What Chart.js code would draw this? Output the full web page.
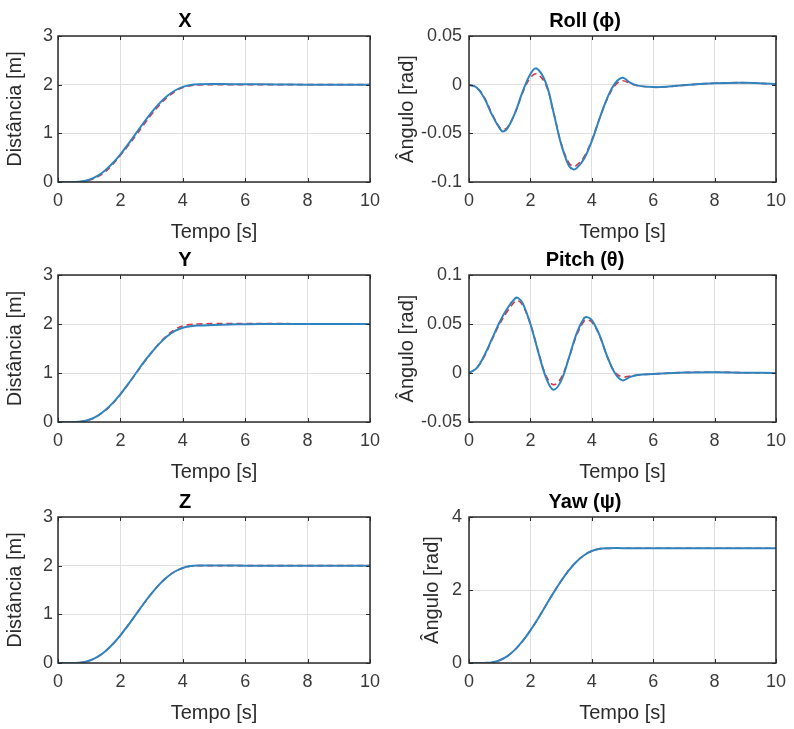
<!DOCTYPE html>
<html>
<head>
<meta charset="utf-8">
<title>Posição e atitude</title>
<script src="https://cdn.jsdelivr.net/npm/chart.js@4.4.0/dist/chart.umd.min.js"></script>
<style>
  body { margin: 0; background: #fff; }
  #wrap { position: relative; width: 794px; height: 729px; overflow: hidden; background: #fff; }
  #wrap canvas { position: absolute; }
</style>
</head>
<body>
<div id="wrap">
  <canvas id="cX"></canvas>
  <canvas id="cRoll"></canvas>
  <canvas id="cY"></canvas>
  <canvas id="cPitch"></canvas>
  <canvas id="cZ"></canvas>
  <canvas id="cYaw"></canvas>
</div>
<script>
// time bases (s)
var tPos = [0, 0.5, 0.75, 1, 1.25, 1.5, 1.75, 2, 2.25, 2.5, 2.75, 3, 3.25, 3.5, 3.75, 4, 4.25, 4.5, 5, 5.5, 6, 7, 8, 9, 10];
var tRoll = [0, 0.25, 0.5, 0.75, 1.0, 1.1, 1.25, 1.5, 1.75, 2.0, 2.2, 2.5, 2.75, 3.0, 3.25, 3.4, 3.5, 3.75, 4.0, 4.25, 4.5, 4.75, 5.0, 5.25, 5.5, 6, 6.5, 7, 8, 9, 10];
var tPitch = [0, 0.25, 0.5, 0.75, 1.0, 1.25, 1.5, 1.6, 1.75, 2.0, 2.25, 2.5, 2.75, 3.0, 3.25, 3.5, 3.75, 3.85, 4.0, 4.25, 4.5, 4.75, 5.0, 5.25, 5.5, 6, 7, 8, 9, 10];

// position X [m]: reference (red dashed) and response (blue)
var xRef = [0, 0.002, 0.008, 0.04, 0.1, 0.2, 0.36, 0.55, 0.75, 0.96, 1.18, 1.39, 1.58, 1.74, 1.86, 1.94, 1.98, 1.995, 2.0, 2.0, 2.0, 2.0, 2.0, 2.0, 2.0];
var xOut = [0, 0.002, 0.01, 0.047, 0.12, 0.233, 0.384, 0.57, 0.777, 1.0, 1.223, 1.43, 1.616, 1.767, 1.88, 1.955, 1.995, 2.01, 2.015, 2.01, 2.01, 2.005, 2.0, 2.0, 2.0];
// position Y [m]
var yRef = [0, 0.002, 0.009, 0.045, 0.115, 0.225, 0.375, 0.56, 0.77, 0.99, 1.21, 1.42, 1.61, 1.77, 1.89, 1.96, 1.99, 2.0, 2.01, 2.01, 2.01, 2.01, 2.0, 2.0, 2.0];
var yOut = [0, 0.002, 0.01, 0.047, 0.12, 0.233, 0.384, 0.57, 0.777, 1.0, 1.22, 1.42, 1.6, 1.75, 1.86, 1.925, 1.955, 1.97, 1.98, 1.99, 1.995, 2.0, 2.0, 2.0, 2.0];
// position Z [m]
var zRef = [0, 0.002, 0.01, 0.047, 0.12, 0.233, 0.384, 0.57, 0.777, 1.0, 1.223, 1.43, 1.616, 1.767, 1.88, 1.953, 1.99, 2.0, 2.0, 2.0, 2.0, 2.0, 2.0, 2.0, 2.0];
var zOut = [0, 0.002, 0.01, 0.047, 0.12, 0.233, 0.384, 0.57, 0.777, 1.0, 1.223, 1.43, 1.616, 1.767, 1.88, 1.953, 1.992, 2.003, 2.005, 2.003, 2.0, 2.0, 2.0, 2.0, 2.0];

// roll [rad]
var rollRef = [0, -0.003, -0.013, -0.03, -0.044, -0.046, -0.044, -0.029, -0.008, 0.007, 0.011, 0.0, -0.028, -0.06, -0.08, -0.084, -0.083, -0.074, -0.057, -0.035, -0.015, -0.001, 0.004, 0.001, -0.001, -0.0025, -0.002, -0.0005, 0.0015, 0.002, 0.0005];
var rollOut = [0, -0.003, -0.014, -0.031, -0.045, -0.048, -0.045, -0.029, -0.007, 0.011, 0.0167, 0.002, -0.028, -0.061, -0.083, -0.087, -0.086, -0.076, -0.058, -0.035, -0.014, 0.001, 0.007, 0.002, -0.001, -0.0025, -0.002, -0.0005, 0.0015, 0.002, 0.0005];
// pitch [rad]
var pitchRef = [0, 0.005, 0.017, 0.034, 0.05, 0.063, 0.073, 0.074, 0.069, 0.05, 0.023, -0.002, -0.012, -0.005, 0.015, 0.038, 0.053, 0.054, 0.052, 0.038, 0.017, 0.001, -0.004, -0.003, -0.002, -0.001, 0.0005, 0.0008, 0.0003, 0];
var pitchOut = [0, 0.005, 0.018, 0.035, 0.052, 0.066, 0.076, 0.0765, 0.071, 0.05, 0.022, -0.004, -0.017, -0.008, 0.015, 0.04, 0.056, 0.057, 0.054, 0.039, 0.017, 0.0, -0.0075, -0.004, -0.002, -0.001, 0.0005, 0.0008, 0.0003, 0];
// yaw [rad]
var yawRef = [0, 0.003, 0.016, 0.074, 0.188, 0.366, 0.603, 0.895, 1.22, 1.571, 1.921, 2.246, 2.538, 2.776, 2.953, 3.068, 3.126, 3.139, 3.142, 3.142, 3.142, 3.142, 3.142, 3.142, 3.142];
var yawOut = [0, 0.003, 0.016, 0.074, 0.188, 0.366, 0.603, 0.895, 1.22, 1.571, 1.921, 2.246, 2.538, 2.776, 2.953, 3.068, 3.13, 3.145, 3.147, 3.145, 3.143, 3.142, 3.142, 3.142, 3.142];

// tick labels
var timeTicks = [0, 2, 4, 6, 8, 10];
var distTicks = [0, 1, 2, 3];
var rollTicks = [-0.1, -0.05, 0, 0.05];
var pitchTicks = [-0.05, 0, 0.05, 0.1];
var yawTicks = [0, 2, 4];

var FONT = '"Liberation Sans", Arial, Helvetica, sans-serif';
var AXIS = '#2b2b2b';

function pts(t, v) {
  return t.map(function (x, i) { return { x: x, y: v[i] }; });
}

// axes box + inward tick marks, matlab style
var boxPlugin = {
  id: 'box',
  afterDraw: function (chart) {
    var a = chart.chartArea, ctx = chart.ctx;
    var sx = chart.scales.x, sy = chart.scales.y;
    ctx.save();
    ctx.strokeStyle = AXIS;
    ctx.lineWidth = 1;
    ctx.beginPath();
    sx.ticks.forEach(function (t) {
      var p = Math.round(sx.getPixelForValue(t.value)) + 0.5;
      ctx.moveTo(p, a.bottom); ctx.lineTo(p, a.bottom - 4);
      ctx.moveTo(p, a.top); ctx.lineTo(p, a.top + 4);
    });
    sy.ticks.forEach(function (t) {
      var p = Math.round(sy.getPixelForValue(t.value)) + 0.5;
      ctx.moveTo(a.left, p); ctx.lineTo(a.left + 4, p);
      ctx.moveTo(a.right, p); ctx.lineTo(a.right - 4, p);
    });
    ctx.stroke();
    ctx.lineWidth = 1.5;
    ctx.strokeRect(a.left, a.top, a.right - a.left, a.bottom - a.top);
    ctx.restore();
  }
};

function makePanel(id, p) {
  var canvas = document.getElementById(id);
  var yw = p.left - p.cx;          // room for y ticks + title
  var top = p.top - 36;
  var h = (p.bottom - p.top) + 36 + 64;
  canvas.width = p.w; canvas.height = h;
  canvas.style.left = p.cx + 'px';
  canvas.style.top = top + 'px';
  canvas.style.width = p.w + 'px';
  canvas.style.height = h + 'px';

  return new Chart(canvas.getContext('2d'), {
    type: 'line',
    data: {
      datasets: [{
        label: 'Real',
        data: pts(p.t, p.out),
        borderColor: '#2f84bf',
        borderWidth: 2,
        pointRadius: 0,
        tension: 0.4,
        fill: false
      }, {
        label: 'Referência',
        data: pts(p.t, p.ref),
        borderColor: '#d9343f',
        borderWidth: 1.6,
        borderDash: [6, 4],
        pointRadius: 0,
        tension: 0.4,
        fill: false
      }]
    },
    options: {
      responsive: false,
      animation: false,
      layout: { padding: { left: 0, top: 0, bottom: 0, right: p.w - (p.right - p.cx) } },
      plugins: {
        legend: { display: false },
        tooltip: { enabled: false },
        title: {
          display: true,
          text: p.title,
          color: '#000',
          font: { family: FONT, size: 20, weight: 'bold' },
          padding: { top: 9, bottom: 3 }
        }
      },
      scales: {
        x: {
          type: 'linear',
          min: 0, max: 10,
          afterBuildTicks: function (s) { s.ticks = timeTicks.map(function (v) { return { value: v }; }); },
          afterFit: function (s) { s.height = 64; },
          grid: { color: '#e0e0e0', drawTicks: false },
          border: { display: false },
          ticks: {
            padding: 8,
            color: '#3a3a3a',
            font: { family: FONT, size: 18 },
            maxRotation: 0,
            callback: function (v) { return String(v); }
          },
          title: {
            display: true,
            text: 'Tempo [s]',
            color: AXIS,
            font: { family: FONT, size: 20 },
            padding: { top: 0, bottom: 2 }
          }
        },
        y: {
          min: p.ticks[0], max: p.ticks[p.ticks.length - 1],
          afterBuildTicks: function (s) { s.ticks = p.ticks.map(function (v) { return { value: v }; }); },
          afterFit: function (s) { s.width = yw; },
          grid: { color: '#e0e0e0', drawTicks: false },
          border: { display: false },
          ticks: {
            padding: p.tickPad,
            color: '#3a3a3a',
            font: { family: FONT, size: 18 },
            callback: function (v) { return String(Number(v.toFixed(3))); }
          },
          title: {
            display: true,
            text: p.ylabel,
            color: AXIS,
            font: { family: FONT, size: 20 },
            padding: { top: p.titlePad, bottom: 0 }
          }
        }
      }
    },
    plugins: [boxPlugin]
  });
}

var colL = { cx: 0, w: 397, left: 58, right: 370, tickPad: 5, titlePad: 3 };
var colR = { cx: 390, w: 404, left: 469, right: 780, tickPad: 7, titlePad: 5 };
var rows = [{ top: 36, bottom: 182 }, { top: 275, bottom: 422 }, { top: 517, bottom: 663 }];

function panel(col, row, extra) {
  return Object.assign({}, col, row, extra);
}

makePanel('cX', panel(colL, rows[0], { title: 'X', ylabel: 'Distância [m]', ticks: distTicks, t: tPos, ref: xRef, out: xOut }));
makePanel('cRoll', panel(colR, rows[0], { title: 'Roll (ϕ)', ylabel: 'Ângulo [rad]', ticks: rollTicks, t: tRoll, ref: rollRef, out: rollOut }));
makePanel('cY', panel(colL, rows[1], { title: 'Y', ylabel: 'Distância [m]', ticks: distTicks, t: tPos, ref: yRef, out: yOut }));
makePanel('cPitch', panel(colR, rows[1], { title: 'Pitch (θ)', ylabel: 'Ângulo [rad]', ticks: pitchTicks, t: tPitch, ref: pitchRef, out: pitchOut }));
makePanel('cZ', panel(colL, rows[2], { title: 'Z', ylabel: 'Distância [m]', ticks: distTicks, t: tPos, ref: zRef, out: zOut }));
makePanel('cYaw', panel(colR, rows[2], { title: 'Yaw (ψ)', ylabel: 'Ângulo [rad]', ticks: yawTicks, t: tPos, ref: yawRef, out: yawOut, titlePad: 30 }));
</script>
</body>
</html>
